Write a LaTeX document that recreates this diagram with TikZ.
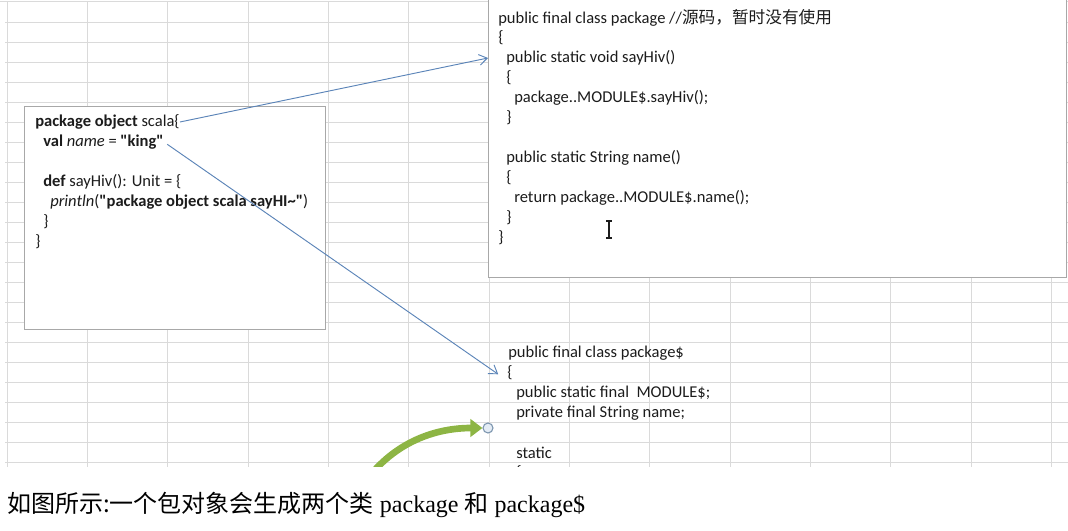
\documentclass[tikz,border=0pt]{standalone}
\usepackage{fontspec}
\setmainfont{Carlito}[Ligatures=TeXOff]
\newfontfamily\cjk{Noto Sans CJK SC}
\newfontfamily\capfont{Liberation Serif}
\usetikzlibrary{arrows.meta,positioning,calc}
\definecolor{cGrid}{HTML}{DADADA}
\definecolor{cEdge}{HTML}{A8A8A8}
\definecolor{cBlue}{HTML}{5B84B8}
\definecolor{cGreen}{HTML}{8DB544}
\definecolor{cInk}{HTML}{1C1C1C}
\definecolor{cHandle}{HTML}{E4ECF5}
\definecolor{cHandleE}{HTML}{7C95AE}
\tikzset{
  code/.style={anchor=west,inner sep=0pt,text=cInk,font=\fontsize{12.4}{14}\selectfont},
  sheetbox/.style={draw=cEdge,fill=white,line width=0.9pt,anchor=north west,inner sep=0pt},
  gridln/.style={draw=cGrid,line width=0.7pt},
  arr/.style={-{Straight Barb[length=6pt,width=8pt]},line width=0.7pt,color=cBlue},
  garr/.style={-{Triangle[length=9pt,width=13pt]},line width=5pt,color=cGreen},
}

\begin{document}
\begin{tikzpicture}[x=0.75pt,y=-0.75pt]
  \useasboundingbox (0,0) rectangle (1068,531);
  \begin{scope}
    \clip (0,0) rectangle (1068,466);
    % sheet grid
    \draw[gridln] (0,1.5) -- (1068,1.5);
    \foreach \gx in {0,...,13}
      \draw[gridln] ({7+80.33*\gx},1.5) -- ++(0,466);
    \foreach \gy in {0,...,22}
      \draw[gridln] (5,{22+20*\gy}) -- (1068,{22+20*\gy});
    % text boxes
    \node[sheetbox,minimum width=225.75pt,minimum height=167.25pt] (objbox) at (24,106) {};
    \node[sheetbox,minimum width=433.5pt,minimum height=211.5pt] (clsbox) at (488,-5) {};
    % package object
    \node[code] (pkg) at (35,122) {\textbf{package object} scala\{};
    \node[code] (val) at (43,142) {\textbf{val} \textit{name} = \textbf{"king"}};
    \node[code] (def) at (43,182) {\textbf{def} sayHiv(): Unit = \{};
    \node[code] (prt) at (50,202) {\textit{println}(\textbf{"package object scala sayHI\textasciitilde"})};
    \node[code] (dcl) at (43,222) {\}};
    \node[code] (pcl) at (35,242) {\}};
    % class package
    \node[code] (hdr) at (498,18) {public final class package //{\cjk\fontsize{12.5}{14}\selectfont 源码，暂时没有使用}};
    \node[code] (ob1) at (498,38) {\{};
    \node[code] (hiv) at (506,58) {public static void sayHiv()};
    \node[code] (ob2) at (506,78) {\{};
    \node[code] (cal) at (514,98) {package..MODULE\$.sayHiv();};
    \node[code] (cb2) at (506,118) {\}};
    \node[code] (nm) at (506,158) {public static String name()};
    \node[code] (ob3) at (506,178) {\{};
    \node[code] (ret) at (514,198) {return package..MODULE\$.name();};
    \node[code] (cb3) at (506,218) {\}};
    \node[code] (cb1) at (498,238) {\}};
    % text cursor
    \draw[cInk,line width=0.8pt] (606,221) -- (612,221) (609,221) -- (609,238) (606,238) -- (612,238);
    % class package$
    \node[code] (cls2) at (508,353) {public final class package\$};
    \node[code] (brace) at (507,373) {\{};
    \node[code] (mod) at (516,393) {public static final\ \ MODULE\$;};
    \node[code] (nmf) at (516,413) {private final String name;};
    \node[code] (stc) at (516,453) {static};
    \node[code] (ob4) at (516,473) {\{};
    % links
    \draw[arr] (pkg.east) -- (hiv.west -| clsbox.west);
    \draw[arr,shorten <=3pt,shorten >=8pt] (val.east) -- (brace.south west);
    \node[circle,draw=cHandleE,fill=cHandle,minimum size=7.5pt,inner sep=0pt,line width=0.8pt] (hdl) at (488,428) {};
    \coordinate (gst) at (368,478);
    \draw[garr] (gst) .. controls (398,440) and (438,428) .. (hdl.west);
  \end{scope}
  \node[anchor=west,inner sep=0pt,font=\fontsize{18}{21}\selectfont] (cap) at (7,505)
    {{\cjk 如图所示:一个包对象会生成两个类}\capfont\ package {\cjk 和} package\$};
\end{tikzpicture}
\end{document}
